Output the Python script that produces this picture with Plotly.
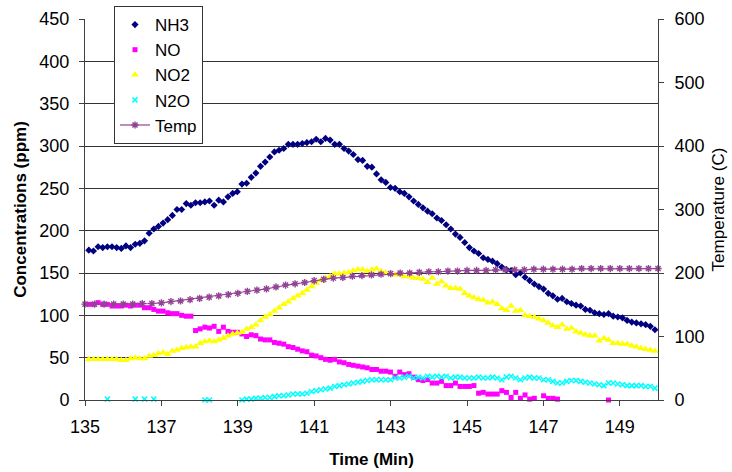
import numpy as np
import plotly.graph_objects as go

# Sampling times (min) for the gas analyser readings and for the thermocouple
time_gas = np.round(np.linspace(135.10, 149.92, 123), 3)
time_temp = np.round(135.0 + 0.25 * np.arange(61), 2)

nh3 = [177, 176, 181, 180, 181, 181, 180, 179, 182, 180, 184, 185, 188, 197, 202, 205, 209, 213, 218, 225,
       225, 232, 230, 233, 233, 234, 235, 230, 236, 234, 240, 244, 246, 255, 256, 263, 268, 276, 281, 287, 293,
       295, 297, 302, 302, 302, 303, 304, 305, 308, 305, 309, 307, 302, 302, 297, 294, 290, 284, 283, 276,
       275, 267, 260, 257, 251, 250, 246, 244, 240, 235, 231, 227, 223, 220, 215, 212, 207, 202, 196, 192, 186,
       180, 176, 173, 168, 166, 164, 161, 157, 154, 153, 148, 150, 145, 141, 137, 134, 131, 126, 123, 119,
       120, 116, 114, 112, 111, 107, 106, 103, 102, 101, 102, 99, 98, 97, 94, 92, 91, 90, 89, 87, 83]

no = [113, 113, 115, 113, 113, 111, 111, 111, 112, 111, 112, 112, 109, 109, 107, 105, 105, 103, 102, 102, 100, 99, 99,
      82, 84, 86, 85, 87, 81, 86, 81, 80, 80, 78, 75, 77, 76, 72, 71, 71, 68, 67, 66, 63, 62, 60, 58, 57, 53, 52,
      50, 48, 47, 48,
      45, 44, 42, 41, 40, 39, 38, 36, 36, 34, 34, 33, 28, 33, 30, 31, 27, 24, 23, 24, 20, 20, 22, 17, 17, 20,
      16, 16, 16, 17, 8, 9, 7, 7, 7, 11, 9, 3, 9, 2, 6, 1, 2, None, 5, 2, 2, 1,
      None, None, None, None, None, None, None, None, None, None, 0,
      None, None, None, None, None, None, None, None, None, None]

no2 = [48, 48, 48, 48, 48, 48, 48, 47, 47, 49, 50, 49, 49, 52, 53, 55, 56, 54, 58, 59,
       61, 62, 63, 63, 67, 69, 70, 69, 71, 73, 76, 78, 79, 80, 84, 86, 89, 94, 98, 101,
       105, 109, 113, 116, 120, 123, 126, 130, 134, 138, 141, 144, 146, 149, 149, 150, 151, 153, 154, 154,
       152, 154, 155, 152, 150, 149, 148, 148, 146, 146, 144, 144, 143, 139, 144, 137, 140, 135, 132, 132,
       131, 126, 123, 121, 119, 118, 115, 116, 113, 108, 106, 111, 105, 106, 100, 99, 98, 96, 94, 91,
       88, 86, 89, 84, 85, 81, 79, 77, 76, 76, 70, 73, 71, 67, 67, 66, 66, 64, 63, 61, 60, 59, 58]

n2o = [None, None, None, None, 1, None, None, None, None, None, 1, None, 1, None, 1, None,
       None, None, None, None, None, None, None, None, None, 0, 0, None, None, None, None, None, None,
       0, 1, 1, 2, 2, 3, 3, 4, 5, 5, 6, 7, 7, 7, 8, 10, 11, 12, 13, 14, 16, 17, 18, 19, 20, 21, 22,
       23, 24, 24, 24, 24, 24, 26, 26, 27, 28, 26, 27, 26, 28, 27, 28, 27, 28, 26, 27,
       27, 26, 26, 26, 27, 26, 26, 27, 26, 24, 27, 28, 26, 24, 26, 27, 26, 26, 24, 24,
       22, 20, 20, 22, 23, 23, 22, 21, 20, 19, 18, 17, 20, 20, 19, 18, 17, 17, 17, 17, 16, 16, 14]

temp = [151, 151, 151, 151, 151, 151, 152, 152, 153, 155, 156, 158, 160, 162, 164, 166, 168, 171, 173, 175,
        178, 181, 183, 185, 188, 190, 192, 193, 195, 196, 197, 198, 199, 200, 200, 201, 202, 202, 203, 203,
        204, 204, 204, 205, 205, 205, 205, 206, 206, 206, 206, 206, 207, 207, 207, 207, 207, 207, 207, 207, 207]

x_ticks = [135, 137, 139, 141, 143, 145, 147, 149]

FONT = "Liberation Sans, Arial, sans-serif"
AXIS_COLOR = "#404040"

fig = go.Figure()

fig.add_trace(go.Scatter(x=time_gas, y=nh3, name="NH3", mode="markers", legendgroup="a",
                         marker=dict(symbol="diamond", size=5.5, color="#000080"), cliponaxis=False))
fig.add_trace(go.Scatter(x=time_gas, y=no, name="NO", mode="markers", legendgroup="b",
                         marker=dict(symbol="square", size=5, color="#FF00FF"), cliponaxis=False))
fig.add_trace(go.Scatter(x=time_gas, y=no2, name="NO2", mode="markers", legendgroup="c",
                         marker=dict(symbol="triangle-up", size=7, color="#FFFF00"), cliponaxis=False))
fig.add_trace(go.Scatter(x=time_gas, y=n2o, name="N2O", mode="markers", legendgroup="d",
                         marker=dict(symbol="x-thin", size=5, color="#00FFFF",
                                     line=dict(color="#00FFFF", width=1.5)), cliponaxis=False))
fig.add_trace(go.Scatter(x=time_temp, y=temp, name="Temp", mode="lines+markers", yaxis="y2",
                         legendgroup="e",
                         line=dict(color="#934393", width=1.2),
                         marker=dict(symbol="asterisk-open", size=6,
                                     line=dict(color="#6E006E", width=1.4)), cliponaxis=False))

fig.update_layout(
    width=732, height=472,
    margin=dict(l=85, r=74, t=19, b=72, autoexpand=False),
    paper_bgcolor="white", plot_bgcolor="white",
    font=dict(family=FONT, size=18, color="black"),
    showlegend=True,
    legend=dict(x=0.0506, y=1.034, xanchor="left", yanchor="top",
                bgcolor="white", bordercolor="#333333", borderwidth=1,
                traceorder="grouped", tracegroupgap=0,
                font=dict(family=FONT, size=17)),
    xaxis=dict(range=[135, 150], tickvals=x_ticks, ticks="outside", ticklen=5,
               tickcolor=AXIS_COLOR, showline=True, linecolor=AXIS_COLOR, linewidth=1,
               showgrid=False, zeroline=False, ticklabelstandoff=5, automargin=False,
               title=dict(text="<b>Time (Min)</b>", standoff=17,
                          font=dict(family=FONT, size=17))),
    yaxis=dict(range=[0, 450], dtick=50, tick0=0, ticks="outside", ticklen=5,
               tickcolor=AXIS_COLOR, showline=True, linecolor=AXIS_COLOR, linewidth=1,
               showgrid=True, gridcolor="#333333", gridwidth=1, zeroline=False,
               ticklabelstandoff=6, automargin=False,
               title=dict(text="<b>Concentrations (ppm)</b>", standoff=8,
                          font=dict(family=FONT, size=17))),
    yaxis2=dict(range=[0, 600], dtick=100, tick0=0, overlaying="y", side="right",
                ticks="outside", ticklen=5, tickcolor=AXIS_COLOR, showline=True,
                linecolor=AXIS_COLOR, linewidth=1, showgrid=False, zeroline=False,
                ticklabelstandoff=7, automargin=False,
                title=dict(text="Temperature (C)", standoff=8,
                           font=dict(family=FONT, size=17))),
)

fig.write_html("out.html")
